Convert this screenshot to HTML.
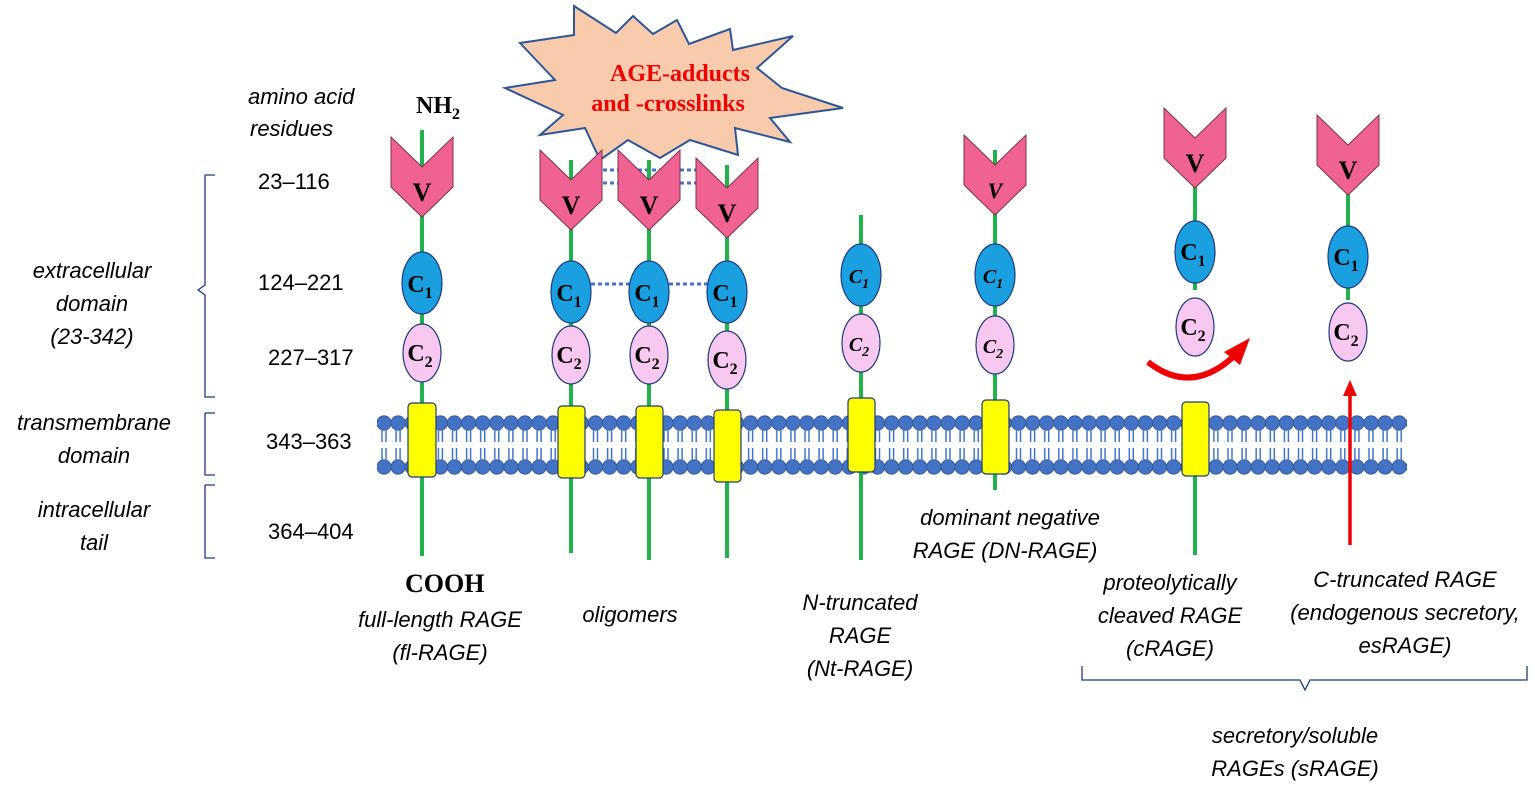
<!DOCTYPE html>
<html><head><meta charset="utf-8"><style>
body{margin:0;background:#fff}
svg{display:block}
.t{font-family:"Liberation Sans",sans-serif;font-style:italic;font-size:22px;fill:#000}
.n{font-family:"Liberation Sans",sans-serif;font-size:22px;fill:#000}
.b{font-family:"Liberation Serif",serif;font-weight:bold;fill:#000}
</style></head><body>
<svg width="1535" height="789" viewBox="0 0 1535 789" xmlns="http://www.w3.org/2000/svg">
<defs>
<pattern id="bead" x="377" y="0" width="14.1" height="789" patternUnits="userSpaceOnUse">
<circle cx="7" cy="423" r="7.2" fill="#4472C4" stroke="#2F528F" stroke-width="0.8"/>
<circle cx="7" cy="467" r="7.2" fill="#4472C4" stroke="#2F528F" stroke-width="0.8"/>
<line x1="5" y1="428" x2="5" y2="442" stroke="#4472C4" stroke-width="1.5"/>
<line x1="9" y1="428" x2="9" y2="442" stroke="#4472C4" stroke-width="1.5"/>
<line x1="5" y1="448" x2="5" y2="462" stroke="#4472C4" stroke-width="1.5"/>
<line x1="9" y1="448" x2="9" y2="462" stroke="#4472C4" stroke-width="1.5"/>
</pattern>
<g id="V"><polygon points="-31,0 0,30 31,0 31,50 0,80 -31,50" fill="#F06292" stroke="#7a3350" stroke-width="1"/></g>
</defs>

<rect x="377" y="413" width="1030" height="62" fill="url(#bead)"/>

<polygon points="520,43 574,35 574,6 616,33 633,16 653,34 677,20 689,44 730,29 733,50 793,36 757,68 782,88 843,108 770,118 790,142 735,128 738,155 690,140 660,158 628,140 600,160 585,128 540,135 563,115 505,88 555,80" fill="#F8CBAD" stroke="#2F5597" stroke-width="2"/>
<text x="680" y="81" text-anchor="middle" class="b" font-size="24" style="fill:#e00">AGE-adducts</text>
<text x="668" y="111" text-anchor="middle" class="b" font-size="24" style="fill:#e00">and -crosslinks</text>

<g stroke="#4472C4" stroke-width="3" stroke-dasharray="4,3">
<line x1="603" y1="170" x2="697" y2="170"/><line x1="603" y1="183" x2="697" y2="183"/>
<line x1="591" y1="284" x2="631" y2="284"/><line x1="669" y1="284" x2="709" y2="284"/>
</g>

<g stroke="#22B14C" stroke-width="4">
<line x1="422" y1="130" x2="422" y2="556"/>
<line x1="571" y1="160" x2="571" y2="553"/>
<line x1="649" y1="160" x2="649" y2="560"/>
<line x1="727" y1="165" x2="727" y2="558"/>
<line x1="861" y1="215" x2="861" y2="560"/>
<line x1="995" y1="150" x2="995" y2="490"/>
<line x1="1195" y1="150" x2="1195" y2="290"/>
<line x1="1195" y1="470" x2="1195" y2="555"/>
<line x1="1348" y1="150" x2="1348" y2="300"/>
</g>

<use href="#V" x="422" y="137"/>
<use href="#V" x="571" y="150"/>
<use href="#V" x="649" y="150"/>
<use href="#V" x="727" y="158"/>
<use href="#V" x="995" y="135"/>
<use href="#V" x="1195" y="108"/>
<use href="#V" x="1348" y="115"/>
<g class="b" font-size="26" text-anchor="middle">
<text x="422" y="201">V</text><text x="571" y="214">V</text><text x="649" y="214">V</text><text x="727" y="222">V</text>
<text x="995" y="198" font-style="italic" font-size="22">V</text><text x="1195" y="172">V</text><text x="1348" y="179">V</text>
</g>

<g fill="#1AA0E0" stroke="#1F3A7A" stroke-width="1.2">
<ellipse cx="422" cy="283" rx="20" ry="31"/><ellipse cx="571" cy="292" rx="20" ry="31"/>
<ellipse cx="649" cy="292" rx="20" ry="31"/><ellipse cx="727" cy="292" rx="20" ry="31"/>
<ellipse cx="861" cy="275" rx="20" ry="31"/><ellipse cx="995" cy="275" rx="20" ry="31"/>
<ellipse cx="1195" cy="252" rx="20" ry="31"/><ellipse cx="1348" cy="257" rx="20" ry="31"/>
</g>
<g fill="#F8C8F0" stroke="#1F3A7A" stroke-width="1.2">
<ellipse cx="422" cy="353" rx="19" ry="29"/><ellipse cx="571" cy="355" rx="19" ry="29"/>
<ellipse cx="649" cy="355" rx="19" ry="29"/><ellipse cx="727" cy="360" rx="19" ry="29"/>
<ellipse cx="861" cy="343" rx="19" ry="29"/><ellipse cx="995" cy="345" rx="19" ry="29"/>
<ellipse cx="1195" cy="327" rx="19" ry="29"/><ellipse cx="1348" cy="332" rx="19" ry="29"/>
</g>
<g class="b" font-size="24" text-anchor="middle">
<text x="420" y="292">C<tspan font-size="16" dy="6">1</tspan></text>
<text x="569" y="301">C<tspan font-size="16" dy="6">1</tspan></text>
<text x="647" y="301">C<tspan font-size="16" dy="6">1</tspan></text>
<text x="725" y="301">C<tspan font-size="16" dy="6">1</tspan></text>
<text x="859" y="283" font-style="italic" font-size="20">C<tspan font-size="14" dy="5">1</tspan></text>
<text x="993" y="283" font-style="italic" font-size="20">C<tspan font-size="14" dy="5">1</tspan></text>
<text x="1193" y="260">C<tspan font-size="16" dy="6">1</tspan></text>
<text x="1346" y="265">C<tspan font-size="16" dy="6">1</tspan></text>
<text x="420" y="361">C<tspan font-size="16" dy="6">2</tspan></text>
<text x="569" y="363">C<tspan font-size="16" dy="6">2</tspan></text>
<text x="647" y="363">C<tspan font-size="16" dy="6">2</tspan></text>
<text x="725" y="368">C<tspan font-size="16" dy="6">2</tspan></text>
<text x="859" y="351" font-style="italic" font-size="20">C<tspan font-size="14" dy="5">2</tspan></text>
<text x="993" y="353" font-style="italic" font-size="20">C<tspan font-size="14" dy="5">2</tspan></text>
<text x="1193" y="335">C<tspan font-size="16" dy="6">2</tspan></text>
<text x="1346" y="340">C<tspan font-size="16" dy="6">2</tspan></text>
</g>

<g fill="#FFFF00" stroke="#1F3A7A" stroke-width="1.2">
<rect x="408" y="403" width="28" height="74" rx="4"/>
<rect x="558" y="406" width="27" height="72" rx="4"/>
<rect x="636" y="406" width="27" height="72" rx="4"/>
<rect x="714" y="410" width="27" height="72" rx="4"/>
<rect x="848" y="398" width="27" height="74" rx="4"/>
<rect x="982" y="400" width="27" height="74" rx="4"/>
<rect x="1182" y="402" width="27" height="74" rx="4"/>
</g>

<!-- red arrows -->
<path d="M1148,362 Q1190,395 1232,358" fill="none" stroke="#e00" stroke-width="6"/>
<polygon points="1224,352 1250,338 1240,365" fill="#e00"/>
<line x1="1350" y1="545" x2="1350" y2="392" stroke="#e00" stroke-width="3.5"/>
<polygon points="1343,396 1357,396 1350,380" fill="#e00"/>

<text x="248" y="104" class="t">amino acid</text>
<text x="250" y="136" class="t">residues</text>
<text x="416" y="113" class="b" font-size="24">NH<tspan font-size="16" dy="6">2</tspan></text>
<g class="n">
<text x="258" y="189">23–116</text><text x="258" y="290">124–221</text>
<text x="268" y="365">227–317</text><text x="266" y="449">343–363</text>
<text x="268" y="539">364–404</text>
</g>
<g class="t" text-anchor="middle">
<text x="92" y="278">extracellular</text><text x="92" y="311">domain</text><text x="92" y="344">(23-342)</text>
<text x="94" y="430">transmembrane</text><text x="94" y="463">domain</text>
<text x="94" y="517">intracellular</text><text x="94" y="550">tail</text>
<text x="440" y="627">full-length RAGE</text><text x="440" y="660">(fl-RAGE)</text>
<text x="630" y="622">oligomers</text>
<text x="860" y="610">N-truncated</text><text x="860" y="643">RAGE</text><text x="860" y="676">(Nt-RAGE)</text>
<text x="1010" y="525">dominant negative</text><text x="1005" y="558">RAGE (DN-RAGE)</text>
<text x="1170" y="590">proteolytically</text><text x="1170" y="623">cleaved RAGE</text><text x="1170" y="656">(cRAGE)</text>
<text x="1405" y="587">C-truncated RAGE</text><text x="1405" y="620">(endogenous secretory,</text><text x="1405" y="653">esRAGE)</text>
<text x="1295" y="743">secretory/soluble</text><text x="1295" y="776">RAGEs (sRAGE)</text>
</g>
<text x="405" y="592" class="b" font-size="26">COOH</text>

<g fill="none" stroke="#1F3A7A" stroke-width="1.3">
<path d="M205,175 H215 M205,175 V285 L198,290 L205,295 V397 H215"/>
<path d="M205,413 H215 M205,413 V475 H215"/>
<path d="M205,485 H215 M205,485 V558 H215"/>
<path d="M1082,666 V680 H1300 L1305,690 L1310,680 H1527 V666"/>
</g>
</svg>
</body></html>
